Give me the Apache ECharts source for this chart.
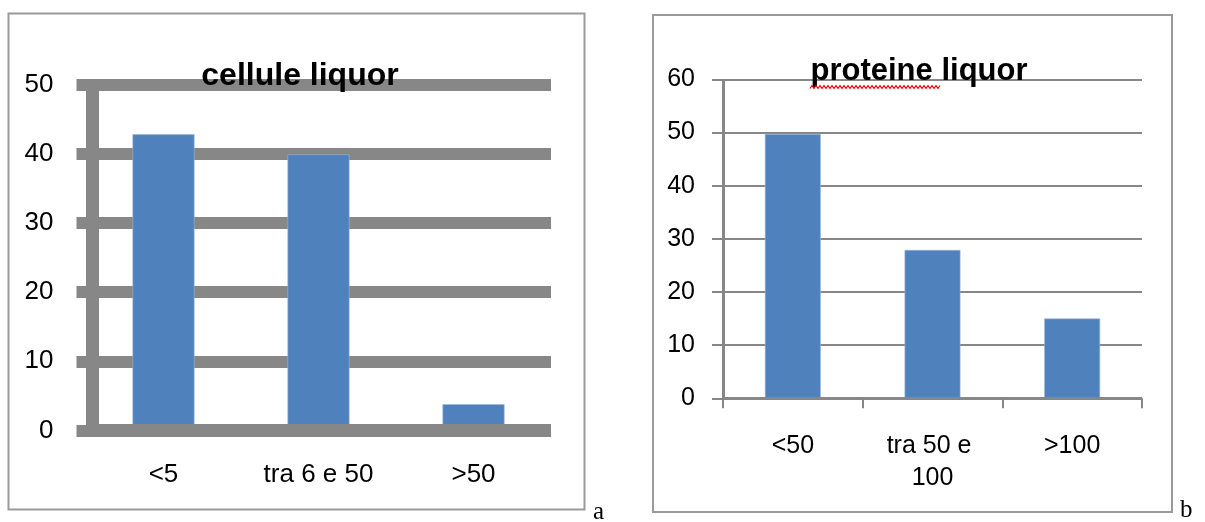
<!DOCTYPE html>
<html>
<head>
<meta charset="utf-8">
<script src="https://cdn.jsdelivr.net/npm/echarts@6/dist/echarts.min.js"></script>
<style>
  html, body { margin: 0; padding: 0; background: #ffffff; }
  #chart { width: 1205px; height: 522px; }
</style>
</head>
<body>
<div id="chart"></div>
<script>
// Cerebrospinal fluid findings: cell count classes (a) and protein classes (b)
const cellCategories = ['<5', 'tra 6 e 50', '>50'];
const cellValues = [42.8, 39.9, 3.8];
const cellAxis = { min: 0, max: 50, interval: 10 };

const proteinCategories = ['<50', 'tra 50 e 100', '>100'];
const proteinValues = [49.7, 27.9, 15.0];
const proteinAxis = { min: 0, max: 60, interval: 10 };

const panelLetters = ['a', 'b'];

const BAR = '#4f81bd';
const GRID_GREY = '#878787';
const FONT = '"Liberation Sans", Arial, sans-serif';

// red spell-check squiggle under the word "proteine"
const squiggle = [];
for (let x = 810, k = 0; x <= 940; x += 2, k++) {
  squiggle.push([x, k % 2 === 0 ? 88.5 : 85.5]);
}

const chart = echarts.init(document.getElementById('chart'), null, { renderer: 'canvas' });

chart.setOption({
  backgroundColor: '#ffffff',
  animation: false,
  title: [
    {
      text: 'cellule liquor', left: 300, top: 60, padding: 0, textAlign: 'center',
      textStyle: { fontFamily: FONT, fontSize: 32, fontWeight: 'bold', color: '#000' }
    },
    {
      text: 'proteine liquor', left: 919, top: 56, padding: 0, textAlign: 'center',
      textStyle: { fontFamily: FONT, fontSize: 31, fontWeight: 'bold', color: '#000' }
    }
  ],
  grid: [
    { left: 86, top: 84.5, width: 465, height: 346, containLabel: false },
    { left: 723, top: 79.3, width: 419, height: 319, containLabel: false }
  ],
  xAxis: [
    {
      gridIndex: 0, type: 'category', data: cellCategories, z: 3,
      axisLine: { show: true, lineStyle: { color: GRID_GREY, width: 13, cap: 'butt' } },
      axisTick: { show: false },
      axisLabel: { fontFamily: FONT, fontSize: 26, color: '#000', margin: 31, interval: 0 },
      splitLine: { show: false }
    },
    {
      gridIndex: 1, type: 'category', data: proteinCategories, z: 3,
      axisLine: { show: true, lineStyle: { color: GRID_GREY, width: 3, cap: 'butt' } },
      axisTick: { show: true, length: 10, lineStyle: { color: GRID_GREY, width: 2 } },
      axisLabel: {
        fontFamily: FONT, fontSize: 25, color: '#000', margin: 32, interval: 0,
        lineHeight: 32, width: 105, overflow: 'break', hideOverlap: false
      },
      splitLine: { show: false }
    }
  ],
  yAxis: [
    {
      gridIndex: 0, type: 'value',
      min: cellAxis.min, max: cellAxis.max, interval: cellAxis.interval,
      offset: -6.5,
      axisLine: { show: true, lineStyle: { color: GRID_GREY, width: 13, cap: 'butt' } },
      axisTick: { show: true, length: 16, lineStyle: { color: GRID_GREY, width: 12, cap: 'butt' } },
      axisLabel: { fontFamily: FONT, fontSize: 26, color: '#000', margin: 39, padding: [0, 0, 10, 0] },
      splitLine: { show: true, lineStyle: { color: GRID_GREY, width: 12, cap: 'butt' } }
    },
    {
      gridIndex: 1, type: 'value',
      min: proteinAxis.min, max: proteinAxis.max, interval: proteinAxis.interval,
      axisLine: { show: true, lineStyle: { color: GRID_GREY, width: 3, cap: 'butt' } },
      axisTick: { show: true, length: 11, lineStyle: { color: GRID_GREY, width: 2 } },
      axisLabel: { fontFamily: FONT, fontSize: 25, color: '#000', margin: 28, padding: [5, 0, 0, 0] },
      splitLine: { show: true, lineStyle: { color: GRID_GREY, width: 2 } }
    }
  ],
  series: [
    {
      type: 'bar', xAxisIndex: 0, yAxisIndex: 0, data: cellValues,
      barCategoryGap: '60%',
      itemStyle: { color: BAR, borderColor: '#9db6dc', borderWidth: 0.6 }
    },
    {
      type: 'bar', xAxisIndex: 1, yAxisIndex: 1, data: proteinValues,
      barCategoryGap: '60%',
      itemStyle: { color: BAR, borderColor: '#9db6dc', borderWidth: 0.6 }
    }
  ],
  graphic: [
    {
      type: 'rect', z: -10, silent: true,
      shape: { x: 8.5, y: 13.5, width: 576, height: 496 },
      style: { fill: 'none', stroke: '#9a9a9a', lineWidth: 2 }
    },
    {
      type: 'rect', z: -10, silent: true,
      shape: { x: 653, y: 15, width: 519, height: 497 },
      style: { fill: 'none', stroke: '#9a9a9a', lineWidth: 2 }
    },
    {
      type: 'polyline', z: 10, silent: true,
      shape: { points: squiggle },
      style: { stroke: '#ff0000', lineWidth: 1.2, fill: 'none' }
    },
    {
      type: 'text', left: 593, top: 500, silent: true,
      style: { text: panelLetters[0], font: '25px "Liberation Serif", "Times New Roman", serif', fill: '#000' }
    },
    {
      type: 'text', left: 1180, top: 498, silent: true,
      style: { text: panelLetters[1], font: '25px "Liberation Serif", "Times New Roman", serif', fill: '#000' }
    }
  ]
});
</script>
</body>
</html>
